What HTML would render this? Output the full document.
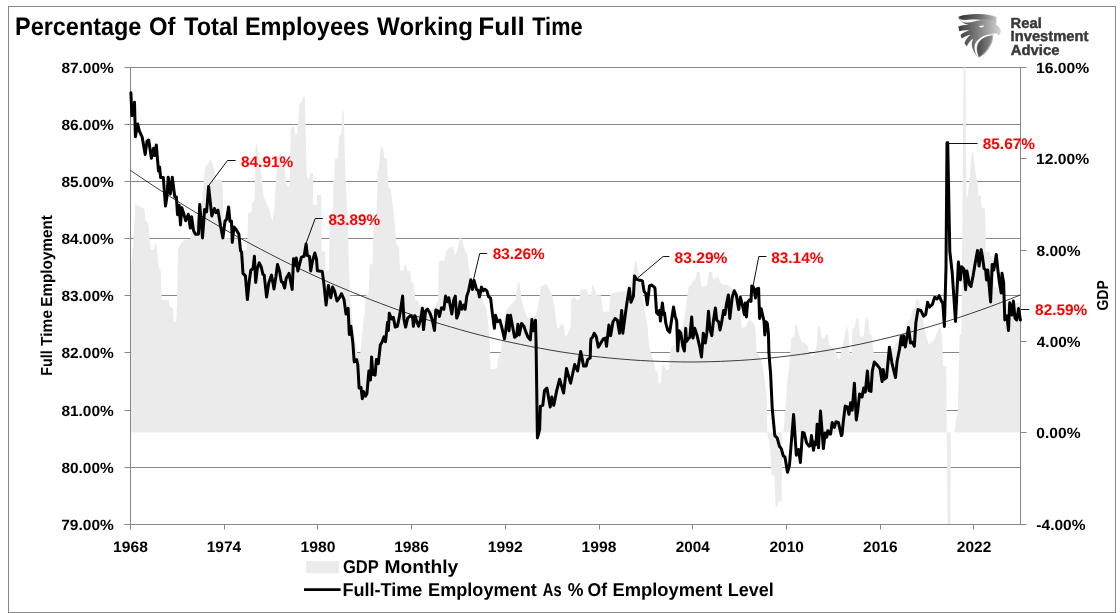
<!DOCTYPE html>
<html lang="en"><head><meta charset="utf-8"><title>Percentage Of Total Employees Working Full Time</title>
<style>html,body{margin:0;padding:0;background:#fff}body{width:1120px;height:613px;overflow:hidden}svg{display:block}text{font-family:"Liberation Sans",sans-serif;font-weight:bold;text-rendering:geometricPrecision}</style></head><body>
<svg width="1120" height="613" viewBox="0 0 1120 613">
<defs><clipPath id="plot"><rect x="130.5" y="67.5" width="890" height="457"/></clipPath>
<linearGradient id="lg1" x1="0" y1="0" x2="1" y2="0"><stop offset="0" stop-color="#3c3c3c"/><stop offset="0.5" stop-color="#848484"/><stop offset="1" stop-color="#d6d6d6"/></linearGradient>
<linearGradient id="lg2" x1="0" y1="0" x2="1" y2="0"><stop offset="0" stop-color="#4a4a4a"/><stop offset="1" stop-color="#8c8c8c"/></linearGradient><linearGradient id="lg3" x1="0" y1="0" x2="1" y2="0"><stop offset="0" stop-color="#2e2e2e"/><stop offset="0.6" stop-color="#6a6a6a" stop-opacity="0.8"/><stop offset="1" stop-color="#999" stop-opacity="0"/></linearGradient></defs>
<rect x="0" y="0" width="1120" height="613" fill="#fff"/>
<rect x="8.5" y="6.5" width="1107" height="606" fill="none" stroke="#888888" stroke-width="1"/>
<line x1="124.5" y1="67.50" x2="1020.5" y2="67.50" stroke="#888888" stroke-width="1"/>
<line x1="124.5" y1="124.50" x2="1020.5" y2="124.50" stroke="#888888" stroke-width="1"/>
<line x1="124.5" y1="181.50" x2="1020.5" y2="181.50" stroke="#888888" stroke-width="1"/>
<line x1="124.5" y1="238.50" x2="1020.5" y2="238.50" stroke="#888888" stroke-width="1"/>
<line x1="124.5" y1="295.50" x2="1020.5" y2="295.50" stroke="#888888" stroke-width="1"/>
<line x1="124.5" y1="352.50" x2="1020.5" y2="352.50" stroke="#888888" stroke-width="1"/>
<line x1="124.5" y1="410.50" x2="1020.5" y2="410.50" stroke="#888888" stroke-width="1"/>
<line x1="124.5" y1="467.50" x2="1020.5" y2="467.50" stroke="#888888" stroke-width="1"/>
<line x1="124.5" y1="524.50" x2="1020.5" y2="524.50" stroke="#888888" stroke-width="1"/>
<path d="M131.2,432.6 L131.2,262.0 L132.8,250.0 L135.5,203.4 L137.2,205.5 L144.4,208.5 L145.4,220.8 L148.4,222.8 L150.5,249.3 L153.5,250.3 L155.2,243.2 L156.6,244.2 L158.6,267.7 L160.7,269.7 L161.7,299.4 L168.8,300.4 L169.9,306.5 L172.9,308.5 L173.9,321.8 L176.0,321.8 L177.0,305.0 L178.0,249.3 L181.1,243.2 L184.1,240.1 L190.2,239.1 L191.0,232.0 L194.0,230.0 L195.0,221.0 L198.0,219.0 L199.0,205.0 L202.0,203.0 L203.0,190.0 L205.0,168.0 L209.9,160.0 L211.6,160.9 L214.4,169.4 L215.6,180.0 L221.3,179.2 L222.9,187.3 L223.5,238.0 L240.5,239.0 L241.5,250.0 L247.0,250.0 L247.4,240.0 L248.2,213.4 L251.5,211.8 L252.3,202.0 L254.7,200.4 L255.6,146.5 L256.9,144.1 L260.4,164.5 L263.7,197.1 L269.4,210.2 L272.7,221.6 L274.3,208.5 L275.9,180.8 L277.6,158.0 L280.8,152.2 L283.3,161.2 L286.6,184.1 L288.2,187.3 L289.8,184.1 L290.6,140.0 L291.2,127.3 L293.8,126.3 L295.3,134.4 L297.3,133.4 L299.3,103.8 L301.4,102.8 L303.3,97.1 L305.0,97.1 L305.6,130.0 L306.3,163.0 L307.1,178.0 L309.6,178.0 L309.8,172.9 L313.0,172.9 L313.2,204.7 L316.9,204.7 L317.1,195.0 L321.3,195.0 L321.6,251.4 L325.2,251.4 L325.4,271.0 L329.1,271.0 L329.2,251.4 L329.6,227.3 L333.2,207.7 L333.2,181.0 L334.3,181.0 L334.8,160.0 L335.0,158.9 L338.0,157.9 L339.0,135.4 L341.1,134.4 L342.7,110.0 L343.7,110.5 L345.1,166.5 L346.1,190.0 L347.1,206.3 L348.2,238.9 L349.2,271.5 L350.2,300.0 L352.2,320.4 L355.3,340.8 L357.3,353.0 L360.4,353.0 L361.4,340.8 L363.4,320.4 L364.5,315.0 L365.5,296.0 L368.5,294.0 L369.7,264.9 L372.6,263.4 L373.2,238.0 L373.6,221.0 L376.3,219.5 L377.3,190.0 L377.6,170.2 L378.7,169.6 L380.8,147.2 L382.8,147.2 L384.4,158.0 L386.9,158.4 L388.5,188.0 L390.6,188.6 L391.0,190.0 L392.6,204.3 L394.6,220.6 L396.1,243.0 L399.1,247.1 L400.1,270.5 L403.2,270.5 L405.2,263.4 L407.3,270.5 L410.3,271.5 L411.4,281.7 L413.4,283.8 L415.4,300.1 L418.5,301.1 L419.5,305.0 L425.0,306.0 L430.0,310.0 L434.0,308.0 L437.9,301.1 L438.9,261.4 L444.0,260.3 L447.0,250.1 L450.1,247.1 L453.1,247.1 L455.2,255.2 L457.2,250.1 L460.3,235.9 L462.3,241.0 L464.4,249.1 L467.4,255.2 L469.5,271.5 L470.5,279.7 L472.0,283.0 L474.0,290.0 L478.0,292.0 L480.0,296.0 L482.7,300.0 L486.8,310.2 L489.8,340.8 L490.5,369.3 L497.0,368.3 L498.0,359.1 L501.1,351.0 L503.1,326.5 L506.2,310.3 L511.3,304.2 L515.3,300.1 L517.4,285.8 L519.0,280.7 L520.4,287.9 L521.4,300.1 L524.5,310.3 L527.6,318.3 L534.0,316.0 L536.7,312.0 L538.8,302.1 L540.8,286.8 L545.9,283.8 L549.0,288.0 L552.0,295.2 L554.1,303.4 L557.1,327.9 L559.2,327.9 L561.2,323.8 L563.3,323.8 L565.3,336.0 L567.3,335.0 L570.4,327.9 L571.4,299.3 L573.4,297.3 L575.5,298.3 L576.5,300.3 L579.6,299.3 L580.6,290.1 L586.7,289.1 L588.7,295.2 L590.8,295.2 L592.8,284.0 L594.9,290.1 L596.9,295.2 L601.0,295.2 L603.0,311.5 L609.1,311.5 L610.1,295.2 L612.2,293.2 L619.3,291.2 L625.4,291.2 L628.5,289.1 L631.5,281.0 L634.6,264.7 L635.6,259.6 L637.7,268.7 L639.7,281.0 L642.8,295.2 L644.8,311.5 L647.9,327.9 L648.9,344.2 L650.6,352.4 L653.6,360.6 L655.7,370.8 L657.7,371.8 L658.7,384.0 L660.8,383.0 L661.8,365.7 L664.9,364.7 L665.9,369.8 L668.9,369.8 L670.0,352.4 L671.0,348.3 L675.0,344.3 L677.1,335.0 L680.0,333.0 L684.0,320.0 L688.6,287.1 L690.7,285.0 L692.7,281.0 L695.8,278.9 L696.8,271.8 L699.8,271.8 L700.9,285.0 L702.9,287.1 L707.0,285.0 L709.0,271.8 L712.1,271.8 L713.1,278.9 L716.2,277.9 L718.2,275.9 L720.2,283.0 L723.3,285.0 L725.3,284.0 L730.4,287.1 L733.5,291.2 L739.6,295.2 L741.6,327.9 L745.7,326.8 L748.8,319.7 L751.8,320.7 L753.9,323.8 L755.6,330.0 L756.6,352.4 L760.7,358.5 L762.7,366.7 L764.8,381.0 L766.8,397.3 L767.2,432.6 L769.4,443.0 L770.4,450.6 L771.4,475.0 L774.5,476.1 L775.5,506.6 L777.5,506.6 L778.5,501.6 L781.6,501.6 L782.2,432.6 L783.1,432.6 L784.1,425.8 L785.1,411.5 L786.2,397.3 L787.2,381.0 L789.2,366.7 L790.2,352.4 L791.3,338.2 L794.3,336.1 L795.3,322.8 L797.3,327.9 L799.4,335.0 L801.4,341.2 L804.5,343.2 L807.5,345.2 L809.6,355.4 L812.6,356.5 L814.7,352.4 L816.7,345.2 L817.7,326.9 L819.8,325.9 L821.8,338.1 L823.8,339.1 L825.9,335.0 L827.9,335.0 L829.3,345.2 L832.0,347.3 L835.0,349.3 L838.1,358.5 L840.1,358.5 L842.2,347.3 L844.2,339.1 L846.3,325.9 L848.3,331.0 L849.3,350.3 L851.4,356.5 L852.4,328.9 L854.4,327.9 L856.5,318.7 L858.5,317.7 L859.9,336.1 L862.0,337.1 L864.0,335.0 L865.6,317.7 L868.1,318.7 L869.7,334.0 L871.7,336.1 L873.8,353.7 L888.0,353.7 L890.0,350.0 L894.2,347.3 L897.2,341.2 L899.3,339.1 L902.3,336.1 L905.4,333.0 L907.4,320.8 L910.5,318.7 L912.5,309.6 L914.6,308.5 L916.2,299.4 L918.6,299.4 L920.7,307.5 L922.7,317.7 L924.8,329.9 L926.8,338.1 L928.8,344.2 L931.9,342.2 L934.9,339.1 L937.0,332.0 L939.0,327.9 L941.1,327.9 L942.1,341.2 L943.1,365.6 L946.2,366.7 L946.8,432.6 L947.5,530.0 L950.5,530.0 L950.8,432.6 L954.2,432.6 L956.0,420.0 L957.9,410.0 L959.4,340.0 L959.6,334.0 L961.5,334.0 L962.3,235.0 L962.8,160.0 L963.6,60.0 L965.3,60.0 L966.1,160.0 L966.5,197.0 L967.7,197.0 L971.8,152.1 L973.0,153.0 L975.9,175.0 L977.5,182.3 L978.3,195.4 L980.8,195.4 L981.6,207.6 L984.9,208.4 L985.7,235.0 L985.7,252.0 L989.3,252.0 L990.0,256.0 L993.0,256.0 L994.2,287.2 L1003.5,287.2 L1004.0,303.0 L1020.5,303.0 L1020.5,432.6 Z" fill="#ebebeb" clip-path="url(#plot)"/>
<line x1="130.5" y1="67.5" x2="130.5" y2="529.5" stroke="#888888" stroke-width="1"/>
<line x1="1020.5" y1="67.5" x2="1020.5" y2="524.5" stroke="#888888" stroke-width="1"/>
<line x1="124.5" y1="524.5" x2="1020.5" y2="524.5" stroke="#888888" stroke-width="1"/>
<line x1="130.50" y1="524.5" x2="130.50" y2="529.5" stroke="#888888" stroke-width="1"/>
<line x1="224.50" y1="524.5" x2="224.50" y2="529.5" stroke="#888888" stroke-width="1"/>
<line x1="317.50" y1="524.5" x2="317.50" y2="529.5" stroke="#888888" stroke-width="1"/>
<line x1="411.50" y1="524.5" x2="411.50" y2="529.5" stroke="#888888" stroke-width="1"/>
<line x1="505.50" y1="524.5" x2="505.50" y2="529.5" stroke="#888888" stroke-width="1"/>
<line x1="599.50" y1="524.5" x2="599.50" y2="529.5" stroke="#888888" stroke-width="1"/>
<line x1="692.50" y1="524.5" x2="692.50" y2="529.5" stroke="#888888" stroke-width="1"/>
<line x1="786.50" y1="524.5" x2="786.50" y2="529.5" stroke="#888888" stroke-width="1"/>
<line x1="880.50" y1="524.5" x2="880.50" y2="529.5" stroke="#888888" stroke-width="1"/>
<line x1="973.50" y1="524.5" x2="973.50" y2="529.5" stroke="#888888" stroke-width="1"/>
<path d="M130.5,170.4 L140.5,177.2 L150.5,183.9 L160.5,190.4 L170.5,196.8 L180.5,203.1 L190.5,209.3 L200.5,215.4 L210.5,221.3 L220.5,227.1 L230.5,232.8 L240.5,238.4 L250.5,243.8 L260.5,249.1 L270.5,254.3 L280.5,259.4 L290.5,264.4 L300.5,269.2 L310.5,273.9 L320.5,278.5 L330.5,283.0 L340.5,287.3 L350.5,291.5 L360.5,295.6 L370.5,299.6 L380.5,303.4 L390.5,307.2 L400.5,310.8 L410.5,314.2 L420.5,317.6 L430.5,320.8 L440.5,323.9 L450.5,326.9 L460.5,329.8 L470.5,332.6 L480.5,335.2 L490.5,337.7 L500.5,340.1 L510.5,342.3 L520.5,344.4 L530.5,346.5 L540.5,348.3 L550.5,350.1 L560.5,351.8 L570.5,353.3 L580.5,354.7 L590.5,356.0 L600.5,357.1 L610.5,358.1 L620.5,359.0 L630.5,359.8 L640.5,360.5 L650.5,361.0 L660.5,361.4 L670.5,361.7 L680.5,361.9 L690.5,362.0 L700.5,361.9 L710.5,361.7 L720.5,361.4 L730.5,360.9 L740.5,360.4 L750.5,359.7 L760.5,358.9 L770.5,358.0 L780.5,356.9 L790.5,355.7 L800.5,354.4 L810.5,353.0 L820.5,351.5 L830.5,349.8 L840.5,348.0 L850.5,346.1 L860.5,344.1 L870.5,341.9 L880.5,339.6 L890.5,337.2 L900.5,334.7 L910.5,332.1 L920.5,329.3 L930.5,326.4 L940.5,323.4 L950.5,320.2 L960.5,317.0 L970.5,313.6 L980.5,310.1 L990.5,306.5 L1000.5,302.7 L1010.5,298.9 L1020.5,294.9" fill="none" stroke="#000" stroke-width="0.75"/>
<path d="M130.9,92.7 L131.9,115.6 L134.5,102.2 L135.4,136.8 L137.7,124.1 L139.4,131.1 L142.1,136.8 L145.2,154.4 L147.0,141.3 L148.7,140.0 L151.4,158.3 L153.6,148.2 L154.7,155.5 L156.3,144.9 L158.5,171.0 L159.6,166.9 L160.6,177.5 L163.3,177.5 L165.5,206.1 L167.1,195.5 L168.2,177.2 L170.4,193.9 L172.3,177.2 L174.8,197.1 L176.4,197.1 L177.5,214.7 L179.2,205.3 L180.5,224.9 L181.8,207.7 L183.7,213.4 L185.7,220.8 L188.3,214.3 L190.3,228.1 L191.6,216.7 L193.5,230.6 L195.5,234.3 L198.4,234.3 L199.7,204.5 L202.5,237.9 L204.6,209.4 L206.6,211.8 L208.6,186.5 L211.8,215.9 L214.4,208.5 L216.1,212.6 L218.0,210.2 L220.5,225.7 L222.9,237.9 L225.0,221.2 L226.6,219.3 L228.6,206.9 L229.9,221.2 L231.5,221.2 L232.3,242.4 L234.0,226.9 L236.1,229.4 L238.9,234.3 L240.5,250.6 L241.6,252.2 L243.0,273.4 L245.4,275.9 L247.4,299.5 L249.2,281.6 L250.8,270.2 L253.1,268.5 L254.4,256.3 L255.7,282.4 L257.3,268.5 L259.3,262.8 L261.2,266.9 L262.9,274.3 L264.2,275.1 L266.6,297.1 L268.7,283.2 L271.5,275.1 L274.0,288.9 L275.9,276.7 L277.5,264.5 L279.7,271.8 L281.3,281.6 L282.9,282.4 L284.6,288.1 L286.2,278.3 L289.0,273.4 L292.2,289.4 L293.5,258.7 L294.8,265.3 L296.3,257.9 L297.9,271.0 L299.7,263.6 L301.4,257.1 L304.1,256.3 L306.1,244.1 L307.4,255.5 L309.5,256.3 L310.7,271.0 L312.3,262.0 L314.8,253.0 L316.4,258.7 L317.4,270.8 L322.3,271.6 L324.0,284.7 L326.1,305.1 L328.4,285.5 L330.8,297.7 L332.6,287.1 L334.6,291.2 L337.0,301.0 L339.5,297.7 L341.4,293.7 L344.0,299.4 L346.0,314.1 L348.1,308.3 L349.3,334.5 L350.9,326.3 L352.9,343.4 L354.2,362.0 L356.6,359.6 L357.8,364.5 L359.1,388.1 L361.0,387.3 L362.3,398.7 L363.5,391.4 L365.3,396.3 L366.9,393.9 L368.9,371.0 L370.5,380.0 L371.6,357.1 L372.9,374.3 L375.1,375.1 L376.4,359.6 L378.3,363.7 L380.3,345.1 L382.2,341.8 L383.9,336.9 L385.5,341.8 L387.6,322.2 L388.4,330.4 L389.3,313.2 L391.7,319.0 L393.3,317.3 L395.3,327.1 L397.4,326.3 L399.9,314.1 L402.6,296.1 L403.9,319.0 L405.6,327.1 L407.7,318.1 L410.5,315.7 L412.6,317.3 L413.4,326.3 L414.9,315.7 L417.0,322.2 L418.6,326.3 L420.7,319.0 L422.4,308.3 L423.5,329.6 L425.6,310.8 L427.6,309.2 L430.0,313.2 L432.2,319.8 L434.5,330.4 L435.8,310.0 L437.7,310.8 L439.4,316.5 L441.5,307.9 L443.9,309.2 L445.6,296.1 L447.5,301.8 L448.8,297.7 L451.8,314.1 L453.7,300.2 L455.3,296.1 L456.7,318.1 L458.6,313.2 L460.2,301.8 L461.9,309.2 L463.8,305.1 L465.1,309.2 L466.8,296.1 L468.7,290.4 L470.8,279.8 L472.5,289.6 L474.1,280.6 L476.6,289.6 L478.2,290.4 L479.5,296.9 L481.5,287.1 L483.3,290.8 L484.9,289.2 L486.9,290.8 L488.5,296.5 L490.6,298.1 L492.2,312.0 L494.4,328.3 L495.5,315.3 L497.6,321.8 L499.9,320.2 L502.0,328.3 L504.5,338.9 L506.1,327.5 L507.7,315.3 L509.0,330.8 L510.5,315.3 L512.3,325.1 L514.6,337.3 L516.7,335.7 L517.9,324.3 L519.2,334.9 L521.6,323.4 L524.1,326.7 L525.7,331.6 L528.1,337.3 L530.3,339.8 L531.9,319.4 L533.4,330.8 L535.5,320.2 L536.1,344.9 L537.4,437.9 L539.6,429.8 L540.4,406.1 L542.8,405.3 L544.5,390.6 L546.9,388.1 L550.2,406.9 L551.8,397.1 L553.8,405.3 L556.7,390.6 L559.6,379.2 L563.6,393.0 L566.5,368.6 L570.6,383.2 L574.7,364.5 L577.6,371.0 L580.7,351.4 L583.6,366.1 L586.1,366.1 L587.7,359.6 L590.2,358.0 L590.6,343.3 L591.0,338.9 L592.6,337.3 L594.2,333.2 L596.2,336.5 L598.3,347.1 L600.8,343.0 L603.2,338.9 L605.3,338.1 L606.5,346.3 L608.9,325.1 L610.6,335.7 L613.0,321.8 L615.1,318.5 L617.4,320.2 L619.5,333.2 L621.7,310.4 L622.8,333.2 L625.2,315.3 L626.9,303.0 L629.3,288.3 L631.0,302.2 L633.4,296.5 L634.5,276.1 L636.7,279.4 L639.1,280.2 L640.0,280.2 L642.4,281.0 L644.1,291.6 L645.7,293.2 L647.3,304.7 L649.5,285.9 L651.4,285.1 L653.9,286.7 L655.0,288.3 L656.6,312.8 L658.3,314.5 L659.6,310.4 L660.4,321.0 L662.4,303.0 L663.7,314.5 L664.5,312.8 L665.8,323.4 L667.7,330.0 L669.7,332.4 L671.8,318.5 L673.5,307.1 L675.1,316.1 L676.7,321.0 L677.7,351.0 L679.2,330.8 L680.8,333.2 L682.8,346.3 L684.4,351.0 L685.7,328.3 L686.5,341.4 L688.1,338.9 L689.8,337.3 L691.7,316.9 L693.0,338.1 L694.7,328.3 L697.1,335.7 L699.6,346.3 L701.5,356.9 L703.3,333.2 L705.3,343.0 L706.9,332.4 L708.5,311.2 L709.8,328.3 L711.8,335.7 L713.4,321.0 L715.4,307.9 L716.7,320.2 L718.7,321.8 L720.0,330.0 L721.6,322.6 L723.6,310.4 L724.9,314.5 L726.8,302.2 L728.4,294.9 L729.8,318.5 L732.2,297.3 L734.3,290.8 L736.3,294.9 L738.7,309.6 L740.4,297.3 L742.5,305.5 L744.4,314.5 L745.3,303.0 L746.4,316.9 L747.7,302.2 L749.7,299.8 L751.0,301.4 L751.8,285.9 L753.7,287.5 L755.5,298.1 L756.7,289.2 L758.6,288.3 L759.6,318.5 L761.1,308.7 L763.2,317.7 L764.0,321.0 L764.8,334.9 L766.0,321.8 L767.3,323.4 L768.4,333.2 L768.9,352.6 L770.6,373.9 L772.3,409.5 L774.8,435.6 L777.2,438.0 L779.4,446.2 L781.3,448.6 L783.3,456.0 L784.9,456.8 L787.5,472.3 L789.5,465.0 L793.6,414.4 L796.3,455.2 L798.5,449.5 L800.4,462.5 L802.5,432.3 L804.2,433.1 L806.6,442.9 L809.1,446.2 L810.4,445.4 L811.5,435.6 L813.5,450.3 L814.8,442.1 L815.9,444.6 L817.2,424.2 L818.5,447.8 L820.5,411.1 L823.4,448.6 L825.1,433.1 L826.7,437.2 L827.8,430.7 L829.5,434.0 L830.6,434.0 L832.2,422.5 L834.4,427.4 L836.0,421.7 L838.4,422.5 L841.4,435.6 L842.0,434.7 L843.3,421.6 L845.2,406.1 L847.3,406.9 L849.0,414.3 L850.6,402.8 L852.2,410.2 L854.4,383.2 L856.3,420.0 L857.6,411.8 L859.6,393.9 L862.0,397.1 L863.7,388.1 L865.3,392.2 L867.4,371.0 L869.0,390.6 L871.0,391.4 L872.3,371.0 L874.3,362.0 L876.7,364.5 L880.0,368.6 L882.1,381.6 L883.2,369.4 L884.4,379.2 L886.5,377.5 L888.1,361.2 L889.4,347.3 L891.9,362.8 L895.5,377.5 L897.1,361.2 L899.6,348.7 L901.2,336.5 L902.5,344.7 L903.6,335.7 L905.3,347.1 L906.9,337.3 L908.5,327.5 L910.5,343.0 L912.6,342.2 L914.3,346.3 L915.9,322.6 L918.0,309.6 L920.8,310.4 L923.6,316.1 L925.7,314.5 L927.6,302.2 L929.4,307.1 L932.2,304.7 L934.7,297.3 L937.1,299.0 L939.2,295.7 L941.2,300.6 L942.8,303.1 L944.4,326.4 L946.0,267.6 L947.0,142.8 L947.7,142.8 L949.8,251.3 L952.2,272.5 L955.5,321.5 L957.1,288.9 L958.4,261.9 L960.4,279.9 L961.7,266.8 L964.0,269.3 L965.6,289.7 L966.9,270.9 L969.4,284.8 L971.0,286.4 L973.1,275.8 L975.4,261.9 L977.5,250.5 L979.1,266.0 L981.1,249.7 L982.4,256.2 L984.0,268.5 L985.7,270.1 L986.5,279.9 L987.8,270.1 L990.6,301.9 L992.2,264.4 L993.8,270.1 L996.3,254.6 L997.9,270.1 L999.5,283.1 L1001.2,292.9 L1002.0,273.3 L1003.6,282.3 L1004.8,319.9 L1006.9,315.8 L1008.5,330.5 L1009.7,302.7 L1011.8,315.0 L1013.4,301.1 L1015.0,318.2 L1016.7,319.9 L1018.6,308.4 L1020.4,319.9" fill="none" stroke="#000" stroke-width="3" stroke-linejoin="round" stroke-linecap="round"/>
<path d="M208.6,185.7 L227.5,160.5 L235.6,160.5" fill="none" stroke="#111" stroke-width="1"/>
<path d="M306.1,243.2 L315.2,218.5 L322.9,218.5" fill="none" stroke="#111" stroke-width="1"/>
<path d="M473.5,279.7 L479.7,253.5 L487.2,253.5" fill="none" stroke="#111" stroke-width="1"/>
<path d="M637.7,277.9 L663.1,256.5 L669.3,256.5" fill="none" stroke="#111" stroke-width="1"/>
<path d="M752.9,286.7 L758.8,256.5 L766.5,256.5" fill="none" stroke="#111" stroke-width="1"/>
<path d="M947.3,143.5 L977.5,143.5" fill="none" stroke="#111" stroke-width="1"/>
<path d="M1021.0,309.5 L1029.3,309.5" fill="none" stroke="#111" stroke-width="1"/>
<text y="34.8" font-size="25.29" fill="#000"><tspan x="15.02" textLength="126.39" lengthAdjust="spacingAndGlyphs">Percentage</tspan> <tspan x="149.05" textLength="26.41" lengthAdjust="spacingAndGlyphs">Of</tspan> <tspan x="184.06" textLength="54.58" lengthAdjust="spacingAndGlyphs">Total</tspan> <tspan x="244.91" textLength="124.34" lengthAdjust="spacingAndGlyphs">Employees</tspan> <tspan x="377.10" textLength="95.90" lengthAdjust="spacingAndGlyphs">Working</tspan> <tspan x="478.23" textLength="46.49" lengthAdjust="spacingAndGlyphs">Full</tspan> <tspan x="532.28" textLength="50.24" lengthAdjust="spacingAndGlyphs">Time</tspan></text>
<text x="61.40" y="72.5" font-size="14.83" textLength="52.42" lengthAdjust="spacingAndGlyphs" fill="#000">87.00%</text>
<text x="61.40" y="129.5" font-size="14.83" textLength="52.42" lengthAdjust="spacingAndGlyphs" fill="#000">86.00%</text>
<text x="61.40" y="186.5" font-size="14.83" textLength="52.42" lengthAdjust="spacingAndGlyphs" fill="#000">85.00%</text>
<text x="61.40" y="243.5" font-size="14.83" textLength="52.42" lengthAdjust="spacingAndGlyphs" fill="#000">84.00%</text>
<text x="61.40" y="300.5" font-size="14.83" textLength="52.42" lengthAdjust="spacingAndGlyphs" fill="#000">83.00%</text>
<text x="61.40" y="357.5" font-size="14.83" textLength="52.42" lengthAdjust="spacingAndGlyphs" fill="#000">82.00%</text>
<text x="61.40" y="415.5" font-size="14.83" textLength="52.42" lengthAdjust="spacingAndGlyphs" fill="#000">81.00%</text>
<text x="61.40" y="472.5" font-size="14.83" textLength="52.42" lengthAdjust="spacingAndGlyphs" fill="#000">80.00%</text>
<text x="61.24" y="529.5" font-size="14.83" textLength="52.57" lengthAdjust="spacingAndGlyphs" fill="#000">79.00%</text>
<line x1="1020.5" y1="67.50" x2="1026.5" y2="67.50" stroke="#888888" stroke-width="1"/>
<text x="1036.02" y="72.5" font-size="14.83" textLength="53.10" lengthAdjust="spacingAndGlyphs" fill="#000">16.00%</text>
<line x1="1020.5" y1="158.50" x2="1026.5" y2="158.50" stroke="#888888" stroke-width="1"/>
<text x="1036.02" y="163.5" font-size="14.83" textLength="53.10" lengthAdjust="spacingAndGlyphs" fill="#000">12.00%</text>
<line x1="1020.5" y1="250.50" x2="1026.5" y2="250.50" stroke="#888888" stroke-width="1"/>
<text x="1036.50" y="255.5" font-size="14.83" textLength="44.00" lengthAdjust="spacingAndGlyphs" fill="#000">8.00%</text>
<line x1="1020.5" y1="341.50" x2="1026.5" y2="341.50" stroke="#888888" stroke-width="1"/>
<text x="1036.77" y="346.5" font-size="14.83" textLength="43.73" lengthAdjust="spacingAndGlyphs" fill="#000">4.00%</text>
<line x1="1020.5" y1="432.50" x2="1026.5" y2="432.50" stroke="#888888" stroke-width="1"/>
<text x="1036.38" y="437.5" font-size="14.83" textLength="44.12" lengthAdjust="spacingAndGlyphs" fill="#000">0.00%</text>
<line x1="1020.5" y1="524.50" x2="1026.5" y2="524.50" stroke="#888888" stroke-width="1"/>
<text x="1036.38" y="529.5" font-size="14.83" textLength="49.12" lengthAdjust="spacingAndGlyphs" fill="#000">-4.00%</text>
<text x="113.07" y="552.1" font-size="15.11" textLength="34.78" lengthAdjust="spacingAndGlyphs" fill="#000">1968</text>
<text x="206.78" y="552.1" font-size="15.11" textLength="34.38" lengthAdjust="spacingAndGlyphs" fill="#000">1974</text>
<text x="300.47" y="552.1" font-size="15.11" textLength="34.94" lengthAdjust="spacingAndGlyphs" fill="#000">1980</text>
<text x="394.17" y="552.1" font-size="15.11" textLength="34.86" lengthAdjust="spacingAndGlyphs" fill="#000">1986</text>
<text x="487.87" y="552.1" font-size="15.11" textLength="34.90" lengthAdjust="spacingAndGlyphs" fill="#000">1992</text>
<text x="581.57" y="552.1" font-size="15.11" textLength="34.78" lengthAdjust="spacingAndGlyphs" fill="#000">1998</text>
<text x="675.72" y="552.1" font-size="15.11" textLength="33.94" lengthAdjust="spacingAndGlyphs" fill="#000">2004</text>
<text x="769.41" y="552.1" font-size="15.11" textLength="34.50" lengthAdjust="spacingAndGlyphs" fill="#000">2010</text>
<text x="863.11" y="552.1" font-size="15.11" textLength="34.42" lengthAdjust="spacingAndGlyphs" fill="#000">2016</text>
<text x="956.81" y="552.1" font-size="15.11" textLength="34.46" lengthAdjust="spacingAndGlyphs" fill="#000">2022</text>
<text x="241.00" y="166.7" font-size="15.40" textLength="52.21" lengthAdjust="spacingAndGlyphs" fill="#ff0000">84.91%</text>
<text x="328.40" y="225.4" font-size="15.40" textLength="51.70" lengthAdjust="spacingAndGlyphs" fill="#ff0000">83.89%</text>
<text x="492.70" y="258.9" font-size="15.40" textLength="52.01" lengthAdjust="spacingAndGlyphs" fill="#ff0000">83.26%</text>
<text x="674.59" y="263.2" font-size="15.40" textLength="52.82" lengthAdjust="spacingAndGlyphs" fill="#ff0000">83.29%</text>
<text x="771.20" y="263.3" font-size="15.40" textLength="52.21" lengthAdjust="spacingAndGlyphs" fill="#ff0000">83.14%</text>
<text x="982.70" y="149.0" font-size="15.40" textLength="52.31" lengthAdjust="spacingAndGlyphs" fill="#ff0000">85.67%</text>
<text x="1035.10" y="315.1" font-size="15.40" textLength="52.21" lengthAdjust="spacingAndGlyphs" fill="#ff0000">82.59%</text>
<rect x="306" y="561" width="33" height="12" fill="#ebebeb"/>
<line x1="304" y1="589.7" x2="340.6" y2="589.7" stroke="#000" stroke-width="2.8"/>
<text y="572.9" font-size="18.60" fill="#000"><tspan x="342.94" textLength="35.52" lengthAdjust="spacingAndGlyphs">GDP</tspan> <tspan x="384.60" textLength="73.70" lengthAdjust="spacingAndGlyphs">Monthly</tspan></text>
<text y="596.1" font-size="18.60" fill="#000"><tspan x="342.38" textLength="80.03" lengthAdjust="spacingAndGlyphs">Full-Time</tspan> <tspan x="428.08" textLength="108.67" lengthAdjust="spacingAndGlyphs">Employment</tspan> <tspan x="542.83" textLength="18.77" lengthAdjust="spacingAndGlyphs">As</tspan> <tspan x="567.66" textLength="15.71" lengthAdjust="spacingAndGlyphs">%</tspan> <tspan x="587.50" textLength="19.47" lengthAdjust="spacingAndGlyphs">Of</tspan> <tspan x="612.46" textLength="109.99" lengthAdjust="spacingAndGlyphs">Employment</tspan> <tspan x="727.68" textLength="46.07" lengthAdjust="spacingAndGlyphs">Level</tspan></text>
<text transform="translate(52.1,0) rotate(-90)" y="0" font-size="15.99" fill="#000"><tspan x="-375.66" textLength="25.36" lengthAdjust="spacingAndGlyphs">Full</tspan> <tspan x="-345.96" textLength="35.98" lengthAdjust="spacingAndGlyphs">Time</tspan> <tspan x="-306.73" textLength="91.64" lengthAdjust="spacingAndGlyphs">Employment</tspan></text>
<text transform="translate(1108.4,310.0) rotate(-90)" x="-0.56" y="0" font-size="15.84" textLength="30.34" lengthAdjust="spacingAndGlyphs" fill="#000">GDP</text>
<text x="1010.61" y="27.7" font-size="14.68" textLength="31.12" lengthAdjust="spacingAndGlyphs" fill="#383838" stroke="#383838" stroke-width="0.45">Real</text>
<text x="1010.60" y="41.3" font-size="14.68" textLength="77.87" lengthAdjust="spacingAndGlyphs" fill="#383838" stroke="#383838" stroke-width="0.45">Investment</text>
<text x="1010.83" y="55.0" font-size="14.68" textLength="48.68" lengthAdjust="spacingAndGlyphs" fill="#383838" stroke="#383838" stroke-width="0.45">Advice</text>
<g id="logo">
<path fill="url(#lg1)" d="M958.3,17.6 C962,15.5 970,14.2 978.5,14.2 C986,14.2 992,15.3 996.5,16.9 L996.3,24.9 C998.5,25.6 1000.2,27.8 1000.8,30.4 C1000.8,32.6 1000,34.4 998.5,35.5 C997.8,34.2 997,33.6 996.5,33.5 L993.4,33.3 C993.4,37 993,40.5 991.8,43.3 C990.5,46.5 988.5,49.5 986.3,51.9 C984,54.3 981.5,56.2 978.5,57.4 C976,55.5 974,52.5 972.6,48.8 C971.6,46.2 971.3,42 973.4,38.6 C970.5,40.5 968,43.5 966.7,46.5 L964.4,42.9 C966,39.5 968,36.5 970.7,34.7 C967.5,35.2 964.2,36.6 961.7,38.6 L960.5,35.1 C963,32.8 966,31 969.1,30.4 C966,30 962.5,30.2 959.3,31.2 L958.3,26.5 C962,25.2 966,24.8 969.9,25.3 C967.2,24.8 964.8,24 963,22.8 C961,21.5 959.3,19.6 958.3,17.6 Z"/>
<path fill="url(#lg3)" d="M958.4,16.8 C962,14.9 971,14 979,14 C986,14 992,15.2 996.7,16.8 L996.6,21.5 C992,20 986,19 980.5,19 C975,18.6 968,18.9 962,18.4 Z"/>
<path fill="#fff" fill-opacity="0.95" d="M958.9,18.5 C960.5,20.8 962.5,22.3 965,22.6 C968.5,22.9 972,21.9 975,21.2 C977,20.7 979,20.4 981.2,20.3 C978.5,19.3 975.5,19.3 972.5,19.6 C969.5,19.9 966,20.2 963.5,19.9 C961.7,19.7 960.2,19.2 958.9,18.5 Z"/>
<path fill="#fff" d="M993.2,34.2 C986,34 979,37.5 975.8,42.5 C973.6,46.5 974.5,52 977.6,57 L978.6,57 C976.5,52 976,47 978,43.2 C981,38.2 987,35.4 993.2,35.2 Z"/>
<path fill="url(#lg2)" d="M992.3,35.6 C986.5,36 981,38.8 978.6,43.4 C976.8,47 977.3,52 979,56.4 C982,54.6 984,52.5 985.6,50.6 C988,47.5 990,44.5 991,42 C991.9,39.6 992.3,37.5 992.3,35.6 Z"/>
<path fill="#fff" d="M978.9,26 L984.3,25.6 C983.3,27.7 980.8,28.3 978.9,26 Z"/>
</g>
</svg></body></html>
